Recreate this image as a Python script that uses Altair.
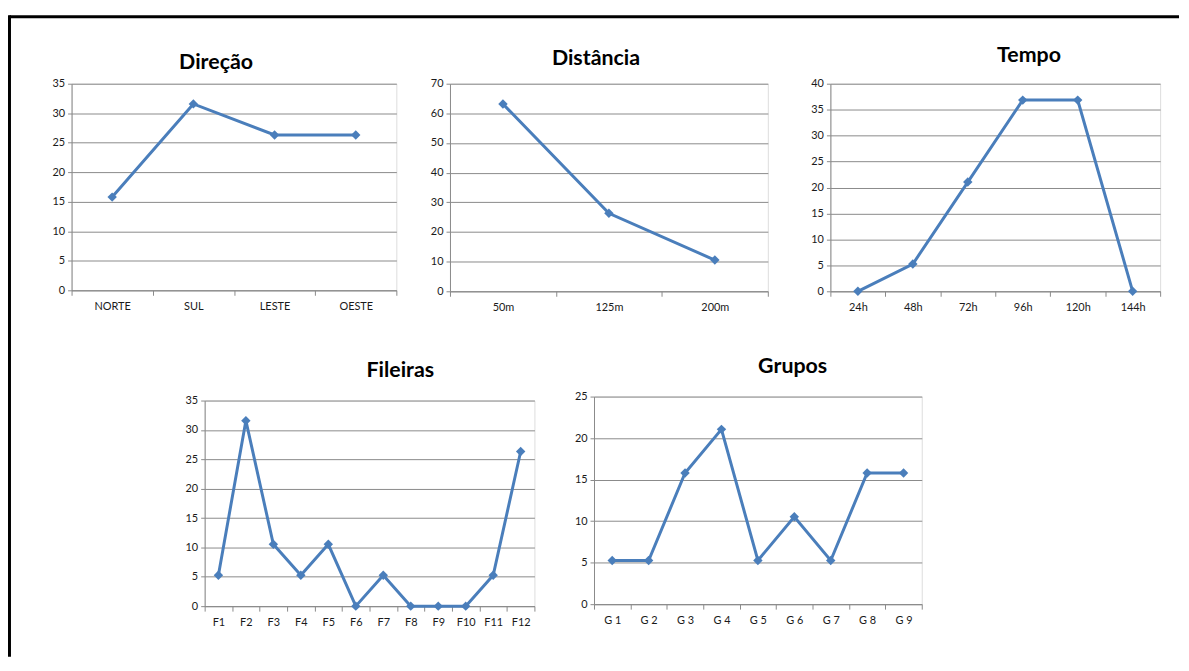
import altair as alt
import pandas as pd

# ---- data ----
dir_cats = ["NORTE", "SUL", "LESTE", "OESTE"]
dir_vals = [15.79, 31.58, 26.32, 26.32]

dist_cats = ["50m", "125m", "200m"]
dist_vals = [63.16, 26.32, 10.53]

tempo_cats = ["24h", "48h", "72h", "96h", "120h", "144h"]
tempo_vals = [0, 5.26, 21.05, 36.84, 36.84, 0]

fil_cats = ["F1", "F2", "F3", "F4", "F5", "F6", "F7", "F8", "F9", "F10", "F11", "F12"]
fil_vals = [5.26, 31.58, 10.53, 5.26, 10.53, 0, 5.26, 0, 0, 0, 5.26, 26.32]

grp_cats = ["G 1", "G 2", "G 3", "G 4", "G 5", "G 6", "G 7", "G 8", "G 9"]
grp_vals = [5.26, 5.26, 15.79, 21.05, 5.26, 10.53, 5.26, 15.79, 15.79]

BLUE = "#4A7EBB"
GRAY = "#8A8A8A"
FONT = "Lato"
TXT = "#1a1a1a"


def panel(title, cats, vals, ymax, step, width, height, tdx, toff):
    df = pd.DataFrame({"cat": cats, "val": vals})
    base = alt.Chart(df).encode(
        x=alt.X(
            "cat:N",
            sort=cats,
            scale=alt.Scale(type="band", paddingInner=0, paddingOuter=0),
            axis=alt.Axis(
                title=None, labelAngle=0, tickBand="extent", grid=False,
                domainColor=GRAY, tickColor=GRAY, tickSize=5, labelPadding=5,
                labelFontSize=11, labelColor=TXT, labelFont=FONT,
            ),
        ),
        y=alt.Y(
            "val:Q",
            scale=alt.Scale(domain=[0, ymax], nice=False, zero=True),
            axis=alt.Axis(
                title=None, values=list(range(0, ymax + 1, step)), grid=True,
                gridColor=GRAY, gridOpacity=1, domainColor=GRAY, tickColor=GRAY,
                tickSize=4, labelPadding=3, labelFontSize=11, labelColor=TXT,
                labelFont=FONT,
            ),
        ),
    )
    line = base.mark_line(color=BLUE, strokeWidth=3)
    pts = base.mark_point(shape="diamond", filled=True, size=90, color=BLUE, opacity=1)
    return alt.layer(line, pts).properties(
        width=width,
        height=height,
        title=alt.TitleParams(
            text=title, fontSize=21.5, fontWeight="bold", font=FONT, color="black",
            anchor="middle", frame="group", dx=tdx, offset=toff,
        ),
    )


def spacer(w, extra=None):
    base = alt.Chart(pd.DataFrame({"a": [0]})).mark_point(opacity=0)
    view = alt.ViewBackground(stroke="transparent", strokeWidth=0, strokeOpacity=0)
    if extra:
        return alt.layer(base, *extra).properties(width=w, height=1, view=view)
    return base.properties(width=w, height=1, view=view)


# outer frame, drawn from the spacer between the first two panels
frame_df = pd.DataFrame({"k": [0]})
frame_top = alt.Chart(frame_df).mark_rule(color="black", strokeWidth=3).encode(
    x=alt.value(-389.5), x2=alt.value(788), y=alt.value(-67.5)
)
frame_left = alt.Chart(frame_df).mark_rule(color="black", strokeWidth=3).encode(
    x=alt.value(-389.5), y=alt.value(-69), y2=alt.value(577)
)

d1 = panel("Direção", dir_cats, dir_vals, 35, 5, 327, 208, -18, 4.5)
d2 = panel("Distância", dist_cats, dist_vals, 70, 10, 320, 209, -13, 8.5)
d3 = panel("Tempo", tempo_cats, tempo_vals, 40, 5, 332, 209, 34, 11.5)
f = panel("Fileiras", fil_cats, fil_vals, 35, 5, 332, 207, 31, 13.5)
g = panel("Grupos", grp_cats, grp_vals, 25, 5, 330, 209, 35, 13.5)

top = alt.hconcat(
    d1, spacer(54, [frame_top, frame_left]), d2, spacer(63), d3,
    spacing=0, bounds="flush",
)
row_g = alt.hconcat(spacer(526), g, spacing=0, bounds="flush")
row_f = alt.hconcat(spacer(134), f, spacing=0, bounds="flush")
bottom = alt.vconcat(row_g, row_f, spacing=4, bounds="flush")

chart = (
    alt.vconcat(top, bottom, spacing=315, bounds="flush")
    .properties(padding={"left": 0, "top": 3, "right": 0, "bottom": 0})
    .configure_view(strokeWidth=0, stroke="transparent")
    .configure(background="white")
)

chart.save("out.html", embed_options={"renderer": "svg", "actions": False})
